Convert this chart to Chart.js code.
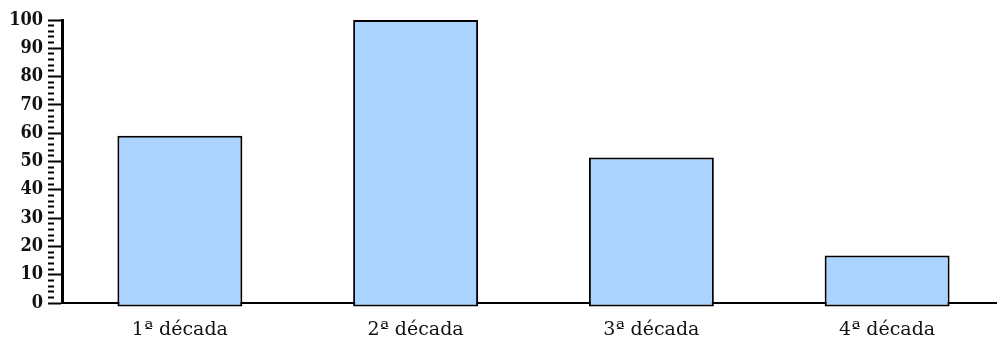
<!DOCTYPE html>
<html>
<head>
<meta charset="utf-8">
<script src="https://cdn.jsdelivr.net/npm/chart.js@4"></script>
<style>
  html, body { margin: 0; padding: 0; background: #fff; overflow: hidden; }
  #wrap { width: 1005px; height: 348px; }
</style>
</head>
<body>
<div id="wrap"><canvas id="chart"></canvas></div>
<script>
const categories = ['1ª década', '2ª década', '3ª década', '4ª década'];
const values = [59.1, 100, 51.4, 16.8];
const barBase = -1.2;
const yMin = 0;
const yMax = 100;
const majorStep = 10;
const minorStep = 2;

const ctx = document.getElementById('chart').getContext('2d');

new Chart(ctx, {
    type: 'bar',
    data: {
        labels: categories,
        datasets: [{
            data: values,
            base: barBase,
            backgroundColor: '#aad4ff',
            borderColor: '#000',
            borderWidth: 2,
            borderSkipped: false,
            barPercentage: 0.53,
            categoryPercentage: 1,
            clip: false
        }]
    },
    options: {
        responsive: true,
        maintainAspectRatio: false,
        animation: false,
        layout: { padding: { top: 20, left: 0, right: 0, bottom: 0 } },
        plugins: {
            legend: { display: false },
            tooltip: { enabled: false }
        },
        scales: {
            x: {
                afterFit: (scale) => { scale.height = 45; },
                grid: { display: false, drawTicks: false },
                border: { display: true, color: '#000', width: 2 },
                ticks: {
                    color: '#111',
                    padding: 16,
                    font: { family: 'DejaVu Serif', size: 19 }
                }
            },
            y: {
                min: yMin,
                max: yMax,
                afterFit: (scale) => { scale.width = 62; },
                grid: {
                    drawOnChartArea: false,
                    tickLength: 14,
                    tickWidth: 2,
                    tickColor: '#000',
                    tickBorderDash: (c) => (c.tick && c.tick.value % majorStep === 0) ? [] : [6, 20]
                },
                border: { display: true, color: '#000', width: 3 },
                ticks: {
                    stepSize: minorStep,
                    autoSkip: false,
                    padding: 5,
                    color: '#111',
                    font: { family: "'DejaVu Serif Condensed', 'DejaVu Serif'", size: 18, weight: 'bold' },
                    callback: (v) => v % majorStep === 0 ? v : ''
                }
            }
        }
    }
});
</script>
</body>
</html>
